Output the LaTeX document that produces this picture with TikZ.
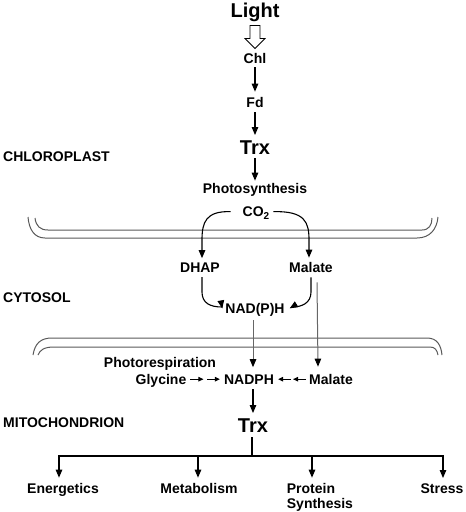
\documentclass[tikz,border=0pt]{standalone}
\usepackage{fontspec}
\setmainfont{Liberation Sans}
\usetikzlibrary{arrows.meta,calc}
\begin{document}
\begin{tikzpicture}[x=1pt,y=-1pt,
  lbl/.style={inner sep=0pt, font=\fontsize{14}{15}\selectfont\bfseries},
  big/.style={inner sep=0pt, font=\fontsize{20}{22}\selectfont\bfseries},
  arr/.style={line width=1.1pt, -{Triangle[length=8pt,width=6.5pt]}},
  sarr/.style={line width=1pt, -{Triangle[length=5pt,width=4.5pt]}},
  garr/.style={line width=1pt, draw=black!60, -{Triangle[length=8pt,width=6.5pt,color=black]}},
  plain/.style={line width=1.1pt},
  memb/.style={line width=1pt, draw=black!65},
  hollow/.style={line width=0.8pt, draw=black, fill=white}
]
\useasboundingbox (0,0) rectangle (466,512);

% nodes
\node[big, anchor=base] (light) at (255,17) {Light};
\node[lbl, anchor=base] (chl) at (255,63) {Chl};
\node[lbl, anchor=base] (fd) at (255,107) {Fd};
\node[big, anchor=base] (trx1) at (255,154) {Trx};
\node[lbl, anchor=base west] (chloro) at (3,161) {CHLOROPLAST};
\node[lbl, anchor=base] (photo) at (255,193) {Photosynthesis};
\node[lbl, anchor=base] (co2) at (256,216) {CO\raisebox{-3pt}{\fontsize{10}{10}\selectfont 2}};
\node[lbl, anchor=base] (dhap) at (200,272) {DHAP};
\node[lbl, anchor=base] (malc) at (311,272) {Malate};
\node[lbl, anchor=base west] (cyto) at (3,302) {CYTOSOL};
\node[lbl, anchor=base] (nadph1) at (255,313) {NAD(P)H};
\node[lbl, anchor=base] (photoresp) at (160,367) {Photorespiration};
\node[lbl, anchor=base] (gly) at (161,384) {Glycine};
\node[lbl, anchor=base] (nadph2) at (249,384) {NADPH};
\node[lbl, anchor=base] (malm) at (331,384) {Malate};
\node[big, anchor=base] (trx2) at (253,432) {Trx};
\node[lbl, anchor=base west] (mito) at (3,427) {MITOCHONDRION};
\node[lbl, anchor=base] (en) at (63,493) {Energetics};
\node[lbl, anchor=base] (met) at (199,493) {Metabolism};
\node[lbl, anchor=base] (prot) at (311,493) {Protein};
\node[lbl, anchor=base west] (synth) at ($(prot.base west)+(0,15)$) {Synthesis};
\node[lbl, anchor=base] (stress) at (442,493) {Stress};

% hollow arrow Light -> Chl
\draw[hollow] ($(light.south)+(-5,4)$) -- ($(light.south)+(5,4)$) -- ($(light.south)+(5,17)$)
  -- ($(light.south)+(10,17)$) -- ($(light.south)+(0,27)$) -- ($(light.south)+(-10,17)$)
  -- ($(light.south)+(-5,17)$) -- cycle;

% chain
\draw[arr, shorten <=4pt, shorten >=5pt] (chl) -- (fd);
\draw[arr, shorten <=5pt, shorten >=5pt] (fd) -- (trx1);
\draw[arr, shorten <=4pt, shorten >=2pt] (trx1) -- (photo);

% membranes
\draw[memb] (28,217) .. controls (29,229) and (34,238) .. (45,238) -- (417,238)
  .. controls (430,238) and (437,229) .. (438,217);
\draw[memb] (35,218) .. controls (36,226) and (40,230) .. (48,230) -- (422,230)
  .. controls (429,230) and (432,225) .. (432,218);
\draw[memb] (33,355) .. controls (35,343) and (41,338) .. (52,338) -- (427,338)
  .. controls (437,338) and (441,345) .. (442,355);
\draw[memb] (38,355) .. controls (40,350) and (44,347) .. (54,347) -- (430,347)
  .. controls (435,347) and (437,350) .. (438,355);

% CO2 branches
\draw[arr] ([xshift=-12pt,yshift=1pt]co2.west) .. controls (206,211) and (202,222) .. (202,240)
  -- ([xshift=2pt,yshift=4pt]dhap.north);
\draw[arr] ([xshift=4pt,yshift=1pt]co2.east) .. controls (305,211) and (309,222) .. (309,240)
  -- ([xshift=-2pt,yshift=4pt]malc.north);

% to NAD(P)H
\draw[arr] ([xshift=2pt,yshift=-5pt]dhap.south) -- (202,292) .. controls (202,303) and (210,307) .. (222,307) -- ([xshift=-3pt,yshift=1pt]nadph1.west);
\draw[arr] ([yshift=-5pt]malc.south) -- (311,292) .. controls (311,303) and (302,307) .. (292,307) -- ([xshift=5pt,yshift=1pt]nadph1.east);

% into mitochondrion
\draw[garr] ([xshift=-2pt,yshift=-4pt]nadph1.south) -- ([xshift=4pt,yshift=7pt]nadph2.north);
\draw[garr] ([xshift=6pt,yshift=-10pt]malc.south) -- ([xshift=-13pt,yshift=7pt]malm.north);

% glycine / malate double arrows
\draw[sarr] (gly.east |- nadph2.west) ++(4,0) -- ++(13,0);
\draw[sarr] (gly.east |- nadph2.west) ++(21,0) -- ([xshift=-4pt]nadph2.west);
\draw[sarr] (malm.west |- nadph2.east) ++(-3,0) -- ++(-13,0);
\draw[sarr] (malm.west |- nadph2.east) ++(-18,0) -- ([xshift=4pt]nadph2.east);

% NADPH -> Trx
\draw[arr] ([xshift=4pt,yshift=-5pt]nadph2.south) -- ([yshift=5pt]trx2.north);

% Trx -> targets
\coordinate (hub) at (252,456);
\draw[plain] ([xshift=-1pt,yshift=-5pt]trx2.south) -- (hub);
\draw[arr] (hub) -| ([xshift=-4pt,yshift=5pt]en.north);
\draw[arr] (hub) -| ([xshift=-1pt,yshift=5pt]met.north);
\draw[arr] (hub) -| ([xshift=1pt,yshift=5pt]prot.north);
\draw[arr] (hub) -| ([xshift=1pt,yshift=5pt]stress.north);
\end{tikzpicture}
\end{document}
